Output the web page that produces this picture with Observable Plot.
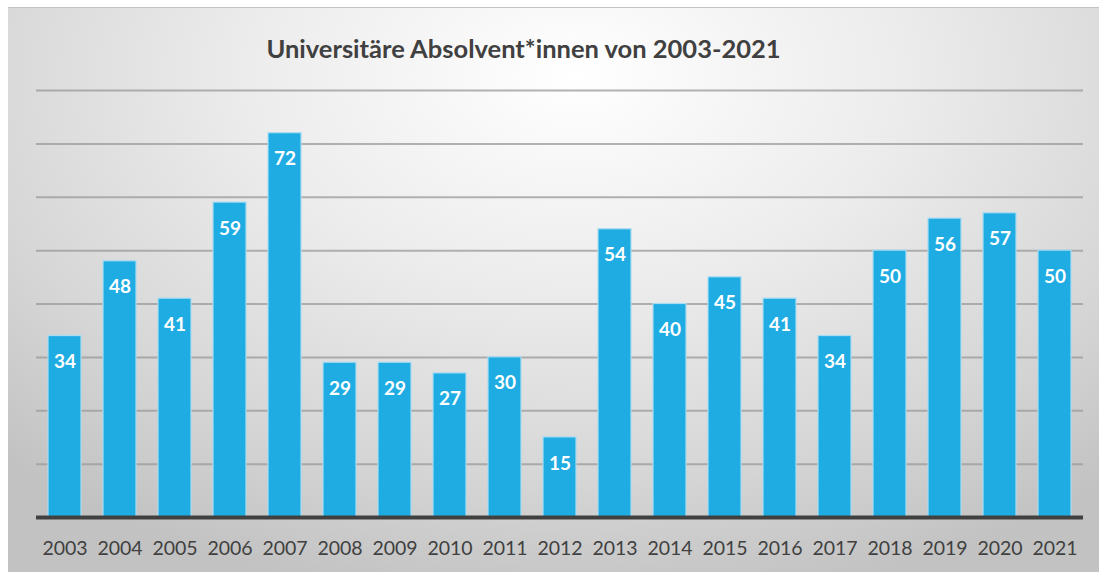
<!DOCTYPE html>
<html>
<head>
<meta charset="utf-8">
<script src="https://cdn.jsdelivr.net/npm/d3@7"></script>
<script src="https://cdn.jsdelivr.net/npm/@observablehq/plot@0.6"></script>
<style>
  html, body { margin: 0; padding: 0; background: #ffffff; }
  #frame {
    position: absolute; left: 8px; top: 7px; width: 1091px; height: 565px;
    border-top: 1px solid #c4c4c4; box-sizing: border-box;
    background: radial-gradient(ellipse 75% 95% at 52% 12%, #ffffff 0%, #ececec 40%, #d6d6d6 75%, #c2c2c2 100%);
    font-family: Lato, "Open Sans", sans-serif;
  }
  #title {
    height: 74px; line-height: 80px; text-align: center; margin-left: -60px;
    font-weight: bold; font-size: 25.5px; color: #404040;
  }
  #chart svg { display: block; }
</style>
</head>
<body>
<div id="frame">
  <div id="title">Universitäre Absolvent*innen von 2003-2021</div>
  <div id="chart"></div>
</div>
<script>
const years = ["2003","2004","2005","2006","2007","2008","2009","2010","2011","2012","2013","2014","2015","2016","2017","2018","2019","2020","2021"];
const graduates = [34,48,41,59,72,29,29,27,30,15,54,40,45,41,34,50,56,57,50];
const gridValues = [10,20,30,40,50,60,70,80];

const data = years.map((y, i) => ({year: y, value: graduates[i]}));

const chart = Plot.plot({
  width: 1091,
  height: 490,
  marginTop: 8,
  marginBottom: 55,
  marginLeft: 28,
  marginRight: 16,
  style: {background: "transparent", color: "#404040", fontFamily: "Lato, 'Open Sans', sans-serif"},
  x: {domain: years, paddingInner: 0.4, paddingOuter: 0.2, label: null},
  y: {domain: [0, 80], axis: null},
  marks: [
    Plot.ruleY(gridValues, {stroke: "#9a9a9a", strokeWidth: 2, strokeOpacity: 0.75}),
    Plot.barY(data, {x: "year", y: "value", fill: "#1eace3", stroke: "#a9dcf1", strokeWidth: 1.2}),
    Plot.text(data, {x: "year", y: "value", text: d => String(d.value), dy: 26, fill: "white", fontWeight: "bold", fontSize: 19}),
    Plot.ruleY([0], {stroke: "#404040", strokeWidth: 4}),
    Plot.axisX({tickSize: 0, tickPadding: 24, fontSize: 19.5, fill: "#404040", label: null})
  ]
});
document.getElementById("chart").appendChild(chart);
</script>
</body>
</html>
